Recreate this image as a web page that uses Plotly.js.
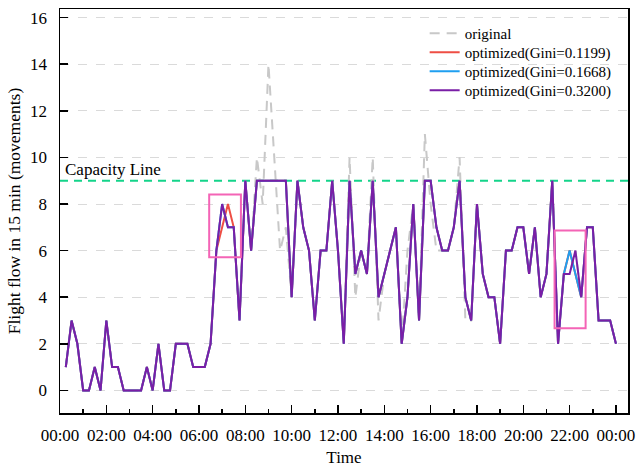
<!DOCTYPE html>
<html>
<head>
<meta charset="utf-8">
<script src="https://cdn.plot.ly/plotly-3.0.1.min.js"></script>
<style>
  html, body { margin: 0; padding: 0; background: #ffffff; }
  #chart { width: 638px; height: 467px; }
</style>
</head>
<body>
<div id="chart"></div>
<script>
// Flight flow per 15-minute slot (slot end time), 96 slots from 00:15 to 24:00
const optimized3200 = [1,3,2,0,0,1,0,3,1,1,0,0,0,0,1,0,2,0,0,2,2,2,1,1,1,2,6,8,7,7,3,9,6,9,9,9,9,9,9,4,9,7,6,3,6,6,9,6,2,9,5,6,5,9,4,5,6,7,2,4,8,3,9,9,7,6,6,7,9,4,3,8,5,4,4,2,6,6,7,7,5,7,4,5,9,2,5,5,6,4,7,7,3,3,3,2];
const optimized1668 = [1,3,2,0,0,1,0,3,1,1,0,0,0,0,1,0,2,0,0,2,2,2,1,1,1,2,6,8,7,7,3,9,6,9,9,9,9,9,9,4,9,7,6,3,6,6,9,6,2,9,5,6,5,9,4,5,6,7,2,4,8,3,9,9,7,6,6,7,9,4,3,8,5,4,4,2,6,6,7,7,5,7,4,5,9,2,5,6,5,4,7,7,3,3,3,2];
const optimized1199 = [1,3,2,0,0,1,0,3,1,1,0,0,0,0,1,0,2,0,0,2,2,2,1,1,1,2,6,7,8,7,3,9,6,9,9,9,9,9,9,4,9,7,6,3,6,6,9,6,2,9,5,6,5,9,4,5,6,7,2,4,8,3,9,9,7,6,6,7,9,4,3,8,5,4,4,2,6,6,7,7,5,7,4,5,9,2,5,6,5,4,7,7,3,3,3,2];
const original = [1,3,2,0,0,1,0,3,1,1,0,0,0,0,1,0,2,0,0,2,2,2,1,1,1,2,6,8,7,7,3,9,6,10,8,14,10,6,7,4,9,7,6,3,6,6,9,6,2,10,4,6,5,10,3,5,6,7,2,6,8,3,11,8,6,6,6,7,10,3,3,8,5,4,4,2,6,6,7,7,5,7,4,5,9,2,5,5,6,4,7,7,3,3,3,2];

const seriesNames = ['original', 'optimized(Gini=0.1199)', 'optimized(Gini=0.1668)', 'optimized(Gini=0.3200)'];
const tickHours = [0,2,4,6,8,10,12,14,16,18,20,22,24];
const tickLabels = ['00:00','02:00','04:00','06:00','08:00','10:00','12:00','14:00','16:00','18:00','20:00','22:00','00:00'];
const minorHours = [1,3,5,7,9,11,13,15,17,19,21,23];
const capacity = 9;
const capacityLabel = 'Capacity Line';
// highlighted windows (hours, flights)
const highlightStart = [6.44, 21.35];
const highlightEnd = [7.81, 22.69];
const highlightLow = [5.72, 2.67];
const highlightHigh = [8.41, 6.86];

const slotHours = original.map((_, i) => (i + 1) * 0.25);

const FONT = '"Liberation Serif", "Times New Roman", serif';
const colors = ['#c8c8c8', '#ee4e44', '#1f9ff0', '#7a1ea6'];
const dashes = ['10px,7px', 'solid', 'solid', 'solid'];
const seriesData = [original, optimized1199, optimized1668, optimized3200];
const legendIds = ['legend', 'legend2', 'legend3', 'legend4'];
const legendTops = [0.980, 0.933, 0.886, 0.839];

const traces = seriesData.map((ys, k) => ({
  type: 'scatter',
  mode: 'lines',
  x: slotHours,
  y: ys,
  name: seriesNames[k],
  legend: legendIds[k],
  line: { color: colors[k], width: 2, dash: dashes[k] },
  hoverinfo: 'skip'
}));

const shapes = [{
  type: 'line', xref: 'paper', x0: 0, x1: 1, yref: 'y', y0: capacity, y1: capacity,
  line: { color: '#14d48a', width: 2, dash: '8px,6px' }, layer: 'between'
}];
highlightStart.forEach((x0, k) => {
  shapes.push({
    type: 'rect', xref: 'x', yref: 'y',
    x0: x0, x1: highlightEnd[k], y0: highlightLow[k], y1: highlightHigh[k],
    line: { color: '#f464b6', width: 2 }, fillcolor: 'rgba(0,0,0,0)', layer: 'above'
  });
});

const layout = {
  width: 638,
  height: 467,
  margin: { l: 60, r: 10, t: 9, b: 54, pad: 0 },
  paper_bgcolor: '#ffffff',
  plot_bgcolor: '#ffffff',
  font: { family: FONT, color: '#000000', size: 17 },
  showlegend: true,
  xaxis: {
    range: [0, 24.52],
    tickmode: 'array', tickvals: tickHours, ticktext: tickLabels,
    ticks: 'inside', ticklen: 8, tickwidth: 1.5, tickcolor: '#000000',
    showline: true, linewidth: 1.5, linecolor: '#000000', mirror: true,
    showgrid: false, zeroline: false,
    tickfont: { family: FONT, size: 17, color: '#000000' },
    ticklabelstandoff: 6,
    minor: { tickvals: minorHours, ticks: 'inside', ticklen: 4, tickwidth: 1.5, tickcolor: '#000000', showgrid: false },
    title: { text: 'Time', font: { family: FONT, size: 17, color: '#000000' }, standoff: 18 },
    automargin: false
  },
  yaxis: {
    range: [-0.97, 16.37],
    tickmode: 'linear', tick0: 0, dtick: 2,
    ticks: 'inside', ticklen: 8, tickwidth: 1.5, tickcolor: '#000000',
    showline: true, linewidth: 1.5, linecolor: '#000000', mirror: true,
    showgrid: true, gridcolor: '#dadada', gridwidth: 1, griddash: 'dash',
    zeroline: false,
    tickfont: { family: FONT, size: 17, color: '#000000' },
    ticklabelstandoff: 8,
    title: { text: 'Flight flow in 15 min (movements)', font: { family: FONT, size: 17.5, color: '#000000' }, standoff: 5 },
    automargin: false
  },
  shapes: shapes,
  annotations: [{
    xref: 'paper', yref: 'y', x: 0.006, y: capacity,
    xanchor: 'left', yanchor: 'bottom', yshift: 0,
    text: capacityLabel, showarrow: false,
    font: { family: FONT, size: 17, color: '#000000' }
  }]
};

legendIds.forEach((id, k) => {
  layout[id] = {
    x: 0.642, y: legendTops[k], xanchor: 'left', yanchor: 'top',
    bgcolor: 'rgba(0,0,0,0)', borderwidth: 0,
    font: { family: FONT, size: 15, color: '#000000' },
    tracegroupgap: 0, itemwidth: 30
  };
});

Plotly.newPlot('chart', traces, layout, { displayModeBar: false, staticPlot: true });
</script>
</body>
</html>
